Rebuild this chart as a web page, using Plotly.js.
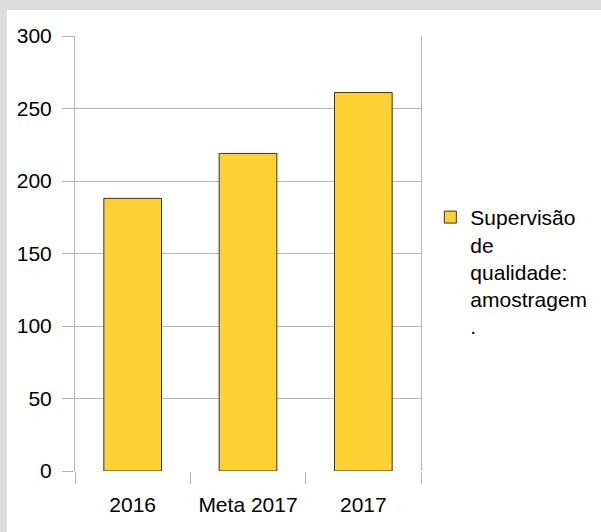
<!DOCTYPE html>
<html>
<head>
<meta charset="utf-8">
<script src="https://cdn.plot.ly/plotly-3.0.1.min.js"></script>
<style>
  html, body { margin: 0; padding: 0; background: #dddddd; width: 601px; height: 532px; overflow: hidden; }
  #chart { position: absolute; left: 7px; top: 10px; width: 594px; height: 522px; background: #ffffff; }
</style>
</head>
<body>
<div id="chart"></div>
<script>
const categories = ["2016", "Meta 2017", "2017"];
const values = [188, 219, 261];
const seriesName = "Supervisão<br>de<br>qualidade:<br>amostragem<br>.";
const yTicks = [0, 50, 100, 150, 200, 250, 300];

const trace = {
  type: "bar",
  x: categories,
  y: values,
  name: seriesName,
  width: 0.5,
  marker: { color: "#FFD133", line: { color: "#333333", width: 1 } },
  showlegend: true,
  hoverinfo: "x+y"
};

const layout = {
  width: 594,
  height: 522,
  margin: { l: 68, r: 180, t: 26, b: 61, autoexpand: false },
  paper_bgcolor: "#ffffff",
  plot_bgcolor: "#ffffff",
  font: { family: "Liberation Sans, Arial, sans-serif", size: 21, color: "#000000" },
  showlegend: true,
  xaxis: {
    type: "category",
    tickson: "boundaries",
    ticks: "outside",
    ticklen: 12,
    tickcolor: "#b3b3b3",
    showgrid: false,
    showline: false,
    zeroline: false,
    ticklabelstandoff: 19,
    tickfont: { size: 21 }
  },
  yaxis: {
    range: [0, 300],
    tickvals: yTicks,
    ticks: "outside",
    ticklen: 12,
    tickcolor: "#b3b3b3",
    gridcolor: "#b3b3b3",
    gridwidth: 1,
    showline: true,
    mirror: true,
    linecolor: "#b3b3b3",
    zeroline: false,
    ticklabelstandoff: 6,
    tickfont: { size: 21 }
  },
  legend: {
    x: 1.027,
    xanchor: "left",
    y: 0.63,
    yanchor: "top",
    valign: "top",
    font: { size: 21 },
    bgcolor: "rgba(0,0,0,0)"
  }
};

Plotly.newPlot("chart", [trace], layout, { displayModeBar: false, staticPlot: true });
</script>
</body>
</html>
